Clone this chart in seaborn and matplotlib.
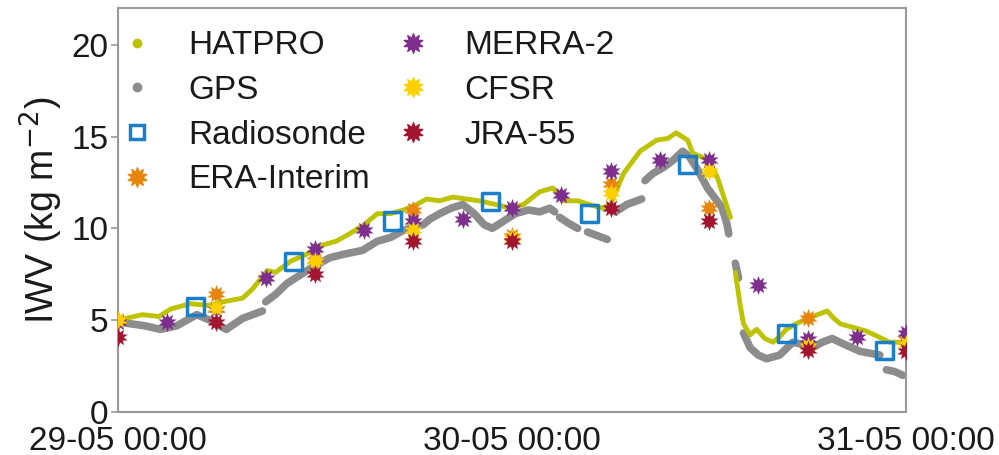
import numpy as np
import pandas as pd
import seaborn as sns
import matplotlib.pyplot as plt
from matplotlib.lines import Line2D
from matplotlib.path import Path

# hours since 29-05 00:00
hatpro_h = [0, 0.5, 1.5, 2.5, 3.2, 4.4, 5.5, 6.4, 7.6, 8.2, 9.1, 9.6, 10.5, 11.5, 12.5, 13.3,
            14.1, 15.0, 15.8, 16.6, 17.4, 18.2, 18.8, 19.6, 20.4, 21.2, 22.0, 23.0, 23.9, 24.7,
            25.7, 26.5, 27.1, 28.0, 28.7, 29.5, 30.0, 30.8, 31.8, 32.8, 33.5, 34.0, 34.7, 35.0,
            35.5, 36.0, 36.5, 36.9, 37.3,
            37.6, 37.9, 38.1, 38.5, 38.9, 39.4, 39.9, 40.3, 40.7, 41.3, 42.0, 42.6, 43.2, 43.6,
            44.0, 44.8, 45.6, 46.3, 47.0, 47.5, 48.0]
hatpro_v = [5.0, 5.1, 5.3, 5.2, 5.6, 5.9, 5.8, 6.0, 6.2, 6.7, 7.7, 7.6, 8.2, 8.6, 9.1, 9.3,
            9.7, 10.2, 10.8, 10.8, 11.0, 11.3, 11.6, 11.5, 11.7, 11.6, 11.5, 11.3, 11.1, 11.3,
            12.0, 12.2, 11.5, 11.5, 11.3, 11.1, 11.3, 13.0, 14.2, 14.8, 14.9, 15.2, 14.8, 14.1,
            13.9, 13.7, 12.8, 11.7, 10.6,
            7.6, 5.8, 4.8, 4.2, 4.5, 4.0, 3.8, 4.1, 4.5, 4.8, 5.1, 5.3, 5.5, 5.1,
            4.8, 4.6, 4.4, 4.1, 3.8, 3.8, 3.7]
hatpro_seg = [0] * 49 + [1] * 21

gps_h = [0, 0.8, 1.6, 2.6, 3.6, 4.8, 5.6, 6.6, 7.6, 8.8,
         9.0, 9.6, 10.3, 11.0, 11.7, 12.9, 13.8, 14.9, 15.8, 16.6, 17.4, 18.6, 19.0, 19.6,
         20.3, 21.0, 21.7, 22.3, 22.8, 23.5, 24.2, 25.0, 25.7, 26.3, 26.6,
         26.9, 27.4, 28.0,
         28.6, 29.2, 29.8,
         30.3, 31.0, 31.9,
         32.1, 32.6, 33.2, 33.8, 34.4, 34.8, 35.3, 35.9, 36.4, 36.8, 37.1, 37.2,
         37.6, 37.8,
         38.1, 38.5, 39.0, 39.5, 40.3, 41.1, 41.6, 42.3, 42.9, 43.5, 44.2, 45.2, 45.8, 46.4,
         46.8, 47.3, 47.8]
gps_v = [4.9, 4.8, 4.7, 4.5, 4.7, 5.3, 5.0, 4.5, 5.1, 5.5,
         6.0, 6.4, 7.0, 7.4, 7.8, 8.4, 8.6, 8.8, 9.3, 9.5, 9.9, 10.2, 10.5, 10.8,
         11.1, 11.3, 10.8, 10.2, 10.0, 10.4, 10.8, 11.0, 10.9, 11.1, 10.9,
         10.6, 10.3, 10.0,
         9.8, 9.6, 9.4,
         10.9, 11.3, 11.6,
         12.6, 13.0, 13.3, 13.7, 14.2, 13.9, 13.2, 12.2, 11.6, 11.1, 10.2, 9.7,
         8.1, 7.3,
         4.3, 3.5, 3.1, 2.9, 3.1, 3.8, 3.7, 3.5, 3.8, 4.0, 3.7, 3.3, 3.2, 3.1,
         2.3, 2.2, 2.0]
gps_seg = [0] * 10 + [1] * 25 + [2] * 3 + [3] * 3 + [4] * 3 + [5] * 12 + [6] * 2 + [7] * 14 + [8] * 3

sonde_h = [4.7, 10.7, 16.7, 22.7, 28.7, 34.7, 40.7, 46.7]
sonde_v = [5.75, 8.2, 10.4, 11.45, 10.8, 13.5, 4.3, 3.35]

rean_h = [0, 6, 12, 18, 24, 30, 36, 42, 48]
era_v = [5.0, 6.4, 8.3, 11.0, 9.6, 12.4, 11.1, 5.1, 4.0]
cfsr_v = [5.0, 5.65, 8.2, 9.9, 9.5, 11.9, 13.1, 3.6, 3.7]
jra_v = [4.1, 4.9, 7.5, 9.3, 9.3, 11.1, 10.4, 3.4, 3.3]

merra_h = [0, 3, 6, 9, 12, 15, 18, 21, 24, 27, 30, 33, 36, 39, 42, 45, 48]
merra_v = [4.9, 4.9, 5.6, 7.3, 8.9, 9.9, 10.4, 10.5, 11.1, 11.8, 13.1, 13.7, 13.7, 6.9, 4.0, 4.1, 4.3]

xtick_h = [0, 24, 48]
xtick_labels = ['29-05 00:00', '30-05 00:00', '31-05 00:00']

c_hat = '#BDC300'
c_gps = '#8C8C8C'
c_sonde = '#1A7FC8'
c_era = '#E8850F'
c_merra = '#7E2F8E'
c_cfsr = '#FFD000'
c_jra = '#A3142F'

sns.set_style('white')
plt.rcParams['font.family'] = ['Liberation Sans', 'DejaVu Sans']
txt = '#1a1a1a'

fig = plt.figure(figsize=(9.99, 4.55), dpi=100)
ax = fig.add_axes([0.118, 0.0945, 0.789, 0.888])

hat = pd.DataFrame({'h': hatpro_h, 'v': hatpro_v, 'seg': hatpro_seg})
gps = pd.DataFrame({'h': gps_h, 'v': gps_v, 'seg': gps_seg})

sns.lineplot(data=gps, x='h', y='v', units='seg', estimator=None, sort=False,
             color=c_gps, lw=5.5, solid_capstyle='round', ax=ax, legend=False)
sns.lineplot(data=hat, x='h', y='v', units='seg', estimator=None, sort=False,
             color=c_hat, lw=3.5, solid_capstyle='round', ax=ax, legend=False)

# burst-like asterisk marker
star = Path.unit_regular_star(10, 0.55)
ms = 190
sns.scatterplot(x=sonde_h, y=sonde_v, marker='s', s=150, facecolor='none',
                edgecolor=c_sonde, linewidth=2.5, ax=ax, zorder=5)
sns.scatterplot(x=rean_h, y=era_v, marker=star, s=ms, color=c_era, linewidth=0, ax=ax, zorder=6)
sns.scatterplot(x=merra_h, y=merra_v, marker=star, s=ms, color=c_merra, linewidth=0, ax=ax, zorder=6)
sns.scatterplot(x=rean_h, y=cfsr_v, marker=star, s=ms, color=c_cfsr, linewidth=0, ax=ax, zorder=6)
sns.scatterplot(x=rean_h, y=jra_v, marker=star, s=ms, color=c_jra, linewidth=0, ax=ax, zorder=6)

ax.set_xlim(0, 48)
ax.set_ylim(0, 22)
ax.set_xticks(xtick_h)
ax.set_xticklabels(xtick_labels)
ax.set_yticks([0, 5, 10, 15, 20])
ax.tick_params(axis='both', labelsize=24, length=5, width=1.2, color='#999999',
               labelcolor=txt, direction='out', left=True, bottom=True, pad=2)
ax.tick_params(axis='x', length=0, pad=10)
for sp in ax.spines.values():
    sp.set_color('#999999')
    sp.set_linewidth(1.5)
ax.set_xlabel('')
ax.set_ylabel('IWV (kg m$^{-2}$)', fontsize=27, color=txt, labelpad=4)

handles = [
    Line2D([], [], ls='none', marker='o', ms=6, color=c_hat, label='HATPRO'),
    Line2D([], [], ls='none', marker='o', ms=6, color=c_gps, label='GPS'),
    Line2D([], [], ls='none', marker='s', ms=10, mfc='none', mec=c_sonde, mew=2.5, label='Radiosonde'),
    Line2D([], [], ls='none', marker=star, ms=14, color=c_era, label='ERA-Interim'),
    Line2D([], [], ls='none', marker=star, ms=14, color=c_merra, label='MERRA-2'),
    Line2D([], [], ls='none', marker=star, ms=14, color=c_cfsr, label='CFSR'),
    Line2D([], [], ls='none', marker=star, ms=14, color=c_jra, label='JRA-55'),
]
leg = ax.legend(handles=handles, ncol=2, loc='upper left', bbox_to_anchor=(0.003, 0.945),
                frameon=False, fontsize=24, handlelength=1.0, handletextpad=1.03,
                columnspacing=0.8, labelspacing=0.41, borderaxespad=0, borderpad=0)
for t in leg.get_texts():
    t.set_color(txt)

fig.savefig('out.png', dpi=100)
